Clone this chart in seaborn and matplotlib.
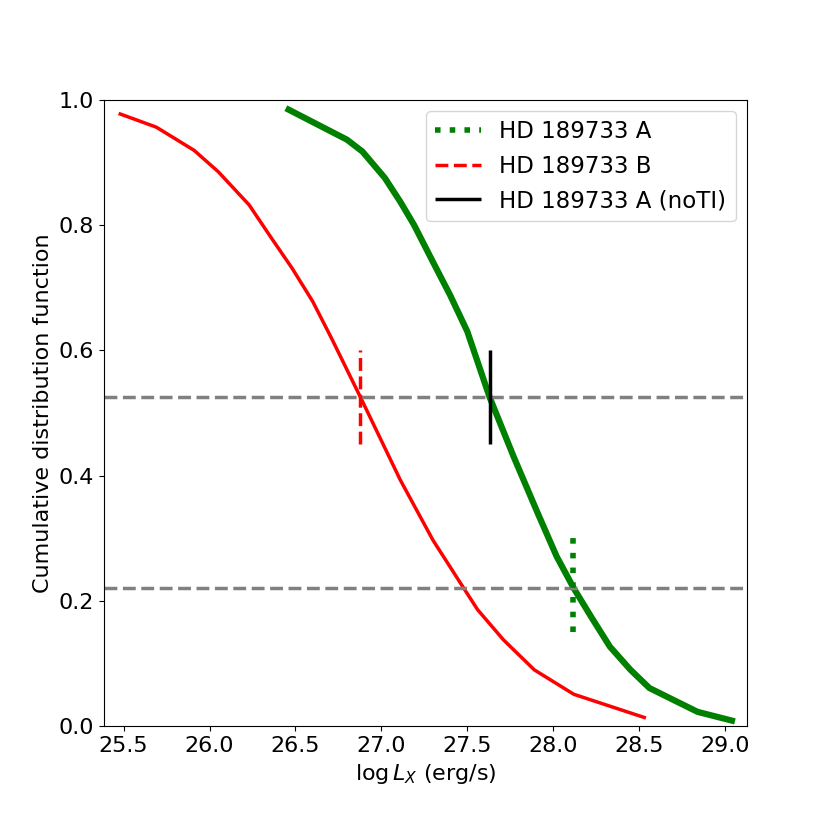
import numpy as np
import pandas as pd
import seaborn as sns
import matplotlib
matplotlib.use("Agg")
import matplotlib.pyplot as plt

# CDF curves
lx_b = [25.48, 25.69, 25.91, 26.05, 26.23, 26.36, 26.48, 26.60, 26.71, 26.88,
        27.11, 27.30, 27.48, 27.56, 27.71, 27.89, 28.12, 28.53]
cdf_b = [0.977, 0.956, 0.919, 0.885, 0.832, 0.779, 0.731, 0.678, 0.619, 0.524,
         0.393, 0.297, 0.220, 0.186, 0.138, 0.090, 0.051, 0.014]

lx_a = [26.46, 26.80, 26.89, 27.02, 27.11, 27.19, 27.30, 27.40, 27.50, 27.63,
        27.77, 27.91, 28.02, 28.12, 28.22, 28.33, 28.45, 28.56, 28.84, 29.04]
cdf_a = [0.984, 0.936, 0.917, 0.875, 0.837, 0.800, 0.741, 0.688, 0.630, 0.525,
         0.430, 0.340, 0.271, 0.220, 0.175, 0.127, 0.090, 0.061, 0.023, 0.009]

# horizontal reference levels
levels = [0.525, 0.22]

# vertical markers: label, x position, y range
marker_labels = ["HD 189733 A", "HD 189733 B", "HD 189733 A (noTI)"]
marker_x = [28.115, 26.876, 27.63]
marker_ylo = [0.15, 0.45, 0.45]
marker_yhi = [0.30, 0.60, 0.60]

df_a = pd.DataFrame({"lx": lx_a, "cdf": cdf_a})
df_b = pd.DataFrame({"lx": lx_b, "cdf": cdf_b})

fig, ax = plt.subplots(figsize=(8.3, 8.3), dpi=100)
fig.subplots_adjust(left=0.125, right=0.9, bottom=0.125, top=0.88)

sns.lineplot(data=df_b, x="lx", y="cdf", color="red", lw=2.5, ax=ax)
sns.lineplot(data=df_a, x="lx", y="cdf", color="green", lw=4.5, ax=ax)

for lev in levels:
    ax.axhline(lev, color="grey", ls="--", lw=2.5)

styles = [dict(color="green", ls=":", lw=4),
          dict(color="red", ls="--", lw=2.5),
          dict(color="black", ls="-", lw=2.5)]
for lab, x, lo, hi, st in zip(marker_labels, marker_x, marker_ylo, marker_yhi, styles):
    ax.vlines(x, lo, hi, label=lab, **st)

ax.set_xlim(25.384, 29.128)
ax.set_ylim(0, 1.0)
ax.set_xlabel(r"$\log L_X$ (erg/s)", fontsize=16)
ax.set_ylabel("Cumulative distribution function", fontsize=16)
ax.tick_params(labelsize=16)
ax.legend(loc="upper right", fontsize=16.5)

plt.savefig("out.png", dpi=100)
